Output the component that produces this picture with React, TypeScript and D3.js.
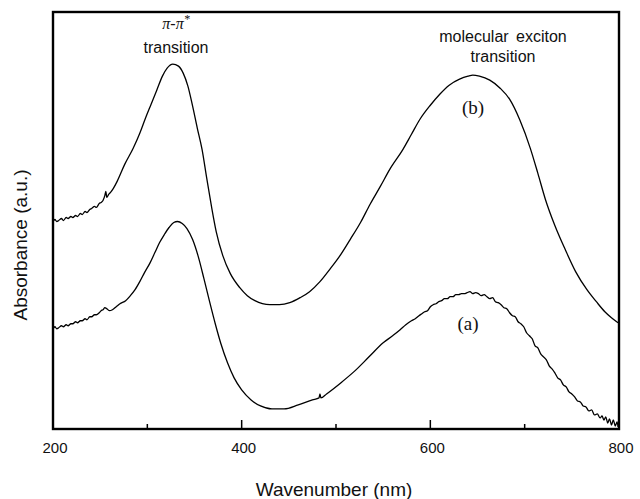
import React from "react";
import * as d3 from "d3";

const xTicksMajor = [200, 400, 600, 800];
const xTicksMinor = [300, 500, 700];

// Curve (b): upper spectrum [wavelength nm, absorbance a.u.]
const curveB: [number, number][] = [
  [200, 2.07], [202, 2.09], [204, 2.07], [206, 2.08], [209, 2.1], [211, 2.08], [214, 2.11], [216, 2.1],
  [219, 2.12], [221, 2.11], [224, 2.13], [226, 2.12], [229, 2.15], [231, 2.14], [234, 2.17], [236, 2.16],
  [239, 2.19], [241, 2.2], [244, 2.22], [246, 2.21], [249, 2.25], [251, 2.26], [253, 2.28], [255, 2.33],
  [256, 2.37], [257, 2.31], [259, 2.34], [261, 2.36], [264, 2.4], [268, 2.47], [276, 2.64], [285, 2.8],
  [292, 2.95], [298, 3.1], [304, 3.24], [310, 3.38], [316, 3.52], [321, 3.6], [327, 3.64], [333, 3.62],
  [338, 3.55], [343, 3.42], [348, 3.22], [353, 3.0], [358, 2.79], [363, 2.5], [368, 2.22], [373, 1.97],
  [380, 1.73], [388, 1.55], [398, 1.41], [406, 1.33], [414, 1.28], [422, 1.25], [430, 1.24],
  [440, 1.24], [451, 1.26], [462, 1.31], [472, 1.37], [483, 1.47], [494, 1.6], [505, 1.74],
  [515, 1.89], [526, 2.06], [536, 2.24], [547, 2.42], [557, 2.59], [571, 2.79], [580, 2.94],
  [589, 3.09], [600, 3.23], [610, 3.34], [620, 3.43], [631, 3.49], [640, 3.52], [645, 3.53],
  [652, 3.52], [663, 3.48], [674, 3.4], [684, 3.29], [695, 3.08], [706, 2.8], [714, 2.55],
  [722, 2.29], [732, 2.03], [743, 1.79], [754, 1.57], [766, 1.39], [776, 1.27], [785, 1.17],
  [792, 1.11], [799, 1.06],
];

// Curve (a): lower spectrum
const curveA: [number, number][] = [
  [200, 1.0], [202, 1.02], [204, 1.0], [206, 1.01], [209, 1.03], [211, 1.02], [214, 1.04], [216, 1.03],
  [219, 1.05], [221, 1.05], [224, 1.07], [226, 1.06], [229, 1.08], [231, 1.08], [234, 1.1], [236, 1.09],
  [239, 1.12], [241, 1.12], [244, 1.14], [246, 1.14], [249, 1.16], [251, 1.18], [253, 1.19], [255, 1.21],
  [257, 1.2], [260, 1.18], [263, 1.19], [267, 1.22], [271, 1.25], [277, 1.28], [282, 1.33],
  [287, 1.39], [292, 1.47], [297, 1.56], [303, 1.66], [308, 1.76], [313, 1.86], [318, 1.94],
  [323, 2.01], [328, 2.06], [332, 2.07], [337, 2.05], [342, 2.0], [348, 1.89], [354, 1.72],
  [360, 1.5], [366, 1.27], [372, 1.05], [378, 0.85], [385, 0.66], [392, 0.51], [400, 0.39],
  [410, 0.29], [420, 0.23], [432, 0.2], [445, 0.2], [460, 0.24], [475, 0.29], [482, 0.31],
  [483, 0.35], [484, 0.31], [490, 0.35], [505, 0.46], [520, 0.58], [535, 0.72], [550, 0.86],
  [560, 0.93], [568, 0.99], [574, 1.04], [580, 1.08], [584, 1.1], [588, 1.13], [591, 1.15], [594, 1.17],
  [597, 1.18], [600, 1.22], [603, 1.24], [606, 1.25], [609, 1.27], [612, 1.28], [615, 1.3], [618, 1.3],
  [621, 1.32], [624, 1.32], [627, 1.34], [630, 1.34], [633, 1.35], [636, 1.35], [639, 1.36], [642, 1.37],
  [645, 1.35], [648, 1.36], [651, 1.35], [654, 1.33], [657, 1.34], [660, 1.32], [663, 1.3], [666, 1.31],
  [669, 1.27], [672, 1.26], [675, 1.24], [678, 1.21], [681, 1.2], [684, 1.16], [687, 1.13], [690, 1.12],
  [693, 1.07], [696, 1.05], [699, 1.02], [702, 0.96], [705, 0.93], [708, 0.9], [711, 0.83], [714, 0.81],
  [717, 0.75], [720, 0.72], [723, 0.69], [726, 0.63], [729, 0.6], [732, 0.56], [735, 0.51], [738, 0.49],
  [741, 0.44], [744, 0.42], [747, 0.37], [750, 0.35], [753, 0.32], [756, 0.28], [759, 0.27], [762, 0.23],
  [765, 0.22], [768, 0.18], [771, 0.19], [774, 0.14], [777, 0.15], [780, 0.11], [782, 0.13], [784, 0.09],
  [786, 0.12], [788, 0.06], [790, 0.1], [792, 0.04], [794, 0.09], [796, 0.03], [798, 0.07], [799, 0.02],
];

const W = 640;
const H = 499;
const margin = { left: 53, right: 21, top: 12, bottom: 70 };

export default function App() {
  const x = d3.scaleLinear().domain([200, 800]).range([margin.left, W - margin.right]);
  const y = d3.scaleLinear().domain([0, 4.16]).range([H - margin.bottom, margin.top]);
  const line = d3
    .line<[number, number]>()
    .x((d) => x(d[0]))
    .y((d) => y(d[1]))
    .curve(d3.curveMonotoneX);
  const x0 = margin.left;
  const x1 = W - margin.right;
  const y0 = H - margin.bottom;
  const y1 = margin.top;
  const sans = "'Liberation Sans', Arial, sans-serif";
  const serif = "'Liberation Serif', 'Times New Roman', serif";
  return (
    <svg
      width={W}
      height={H}
      style={{ position: "absolute", left: 0, top: 0, background: "#fff" }}
    >
      <rect x={0} y={0} width={W} height={H} fill="#fff" />
      <path d={line(curveB) || ""} fill="none" stroke="#000" strokeWidth={1.3} />
      <path d={line(curveA) || ""} fill="none" stroke="#000" strokeWidth={1.3} />
      <rect x={x0} y={y1} width={x1 - x0} height={y0 - y1} fill="none" stroke="#000" strokeWidth={2.4} />
      {xTicksMajor.map((t) => (
        <line key={"M" + t} x1={x(t)} x2={x(t)} y1={y0} y2={y0 - 9} stroke="#000" strokeWidth={1.5} />
      ))}
      {xTicksMinor.map((t) => (
        <line key={"m" + t} x1={x(t)} x2={x(t)} y1={y0} y2={y0 - 5} stroke="#000" strokeWidth={1.5} />
      ))}
      {xTicksMajor.map((t) => (
        <text key={"L" + t} x={x(t) + 2} y={y0 + 24} fontFamily={sans} fontSize={15} textAnchor="middle" fill="#111">
          {t}
        </text>
      ))}
      <text x={334} y={496} fontFamily={sans} fontSize={19} textAnchor="middle" fill="#111">
        Wavenumber (nm)
      </text>
      <text
        transform={`translate(27, 245) rotate(-90)`}
        fontFamily={sans}
        fontSize={19}
        textAnchor="middle"
        fill="#111"
      >
        Absorbance (a.u.)
      </text>
      <text x={176} y={29} fontFamily={serif} fontStyle="italic" fontSize={16} textAnchor="middle" fill="#111">
        π-π<tspan dy={-6} fontSize={12}>*</tspan>
      </text>
      <text x={176} y={53} fontFamily={sans} fontSize={16} textAnchor="middle" fill="#111">
        transition
      </text>
      <text x={503} y={42} fontFamily={sans} fontSize={16} textAnchor="middle" fill="#111" style={{ wordSpacing: "3px" }}>
        molecular exciton
      </text>
      <text x={503} y={62} fontFamily={sans} fontSize={16} textAnchor="middle" fill="#111">
        transition
      </text>
      <text x={473} y={114} fontFamily={serif} fontSize={19} textAnchor="middle" fill="#111">
        (b)
      </text>
      <text x={468} y={330} fontFamily={serif} fontSize={19} textAnchor="middle" fill="#111">
        (a)
      </text>
    </svg>
  );
}
